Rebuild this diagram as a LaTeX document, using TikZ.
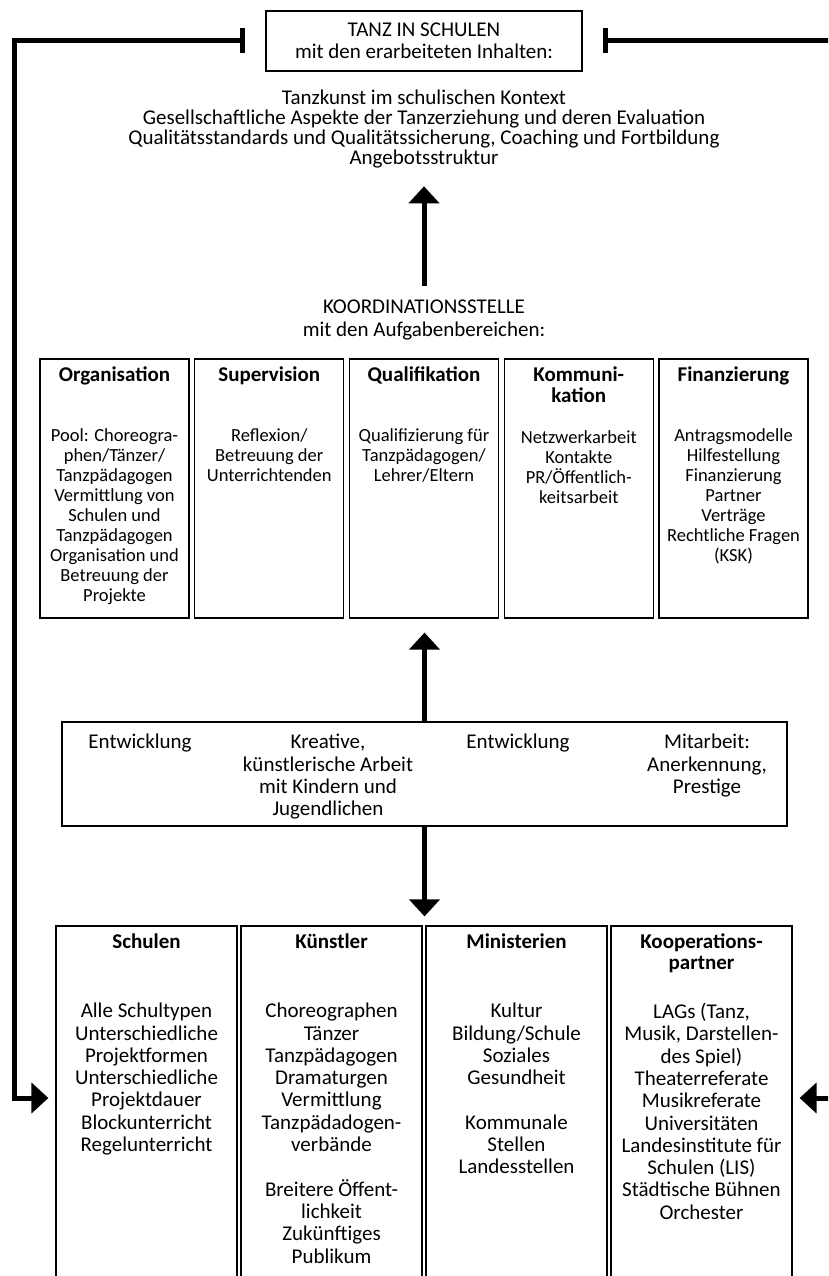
\documentclass[tikz,border=0pt]{standalone}
\usepackage{fontspec}
\setmainfont{Carlito}
\usetikzlibrary{arrows.meta}

\begin{document}
\begin{tikzpicture}[x=1pt, y=-1pt,
  every node/.style={inner sep=0pt, align=center, font=\fontsize{21}{20}\selectfont},
  frame/.style={draw, line width=1.2pt},
  head/.style={anchor=north, font=\fontsize{21}{21}\selectfont\bfseries},
  small/.style={anchor=north, font=\fontsize{18.5}{20}\selectfont},
  body/.style={anchor=north, font=\fontsize{21}{22.3}\selectfont},
  link/.style={line width=5pt},
  up/.style={link, -{Triangle[width=30pt,length=17pt]}},
  feedback/.style={link, {Bar[width=25pt]}-{Triangle[width=30pt,length=17pt]}}]
\useasboundingbox (0,0) rectangle (828,1276);
\clip (0,0) rectangle (828,1276);

\node[frame, minimum width=316pt, minimum height=60pt, font=\fontsize{21}{22}\selectfont] (tanz) at (424,41) {TANZ IN SCHULEN\\mit den erarbeiteten Inhalten:};

\node (inhalte) at (424,129) {Tanzkunst im schulischen Kontext\\Gesellschaftliche Aspekte der Tanzerziehung und deren Evaluation\\Qualitätsstandards und Qualitätssicherung, Coaching und Fortbildung\\Angebotsstruktur};

\node[font=\fontsize{21}{23}\selectfont] (koord) at (424,320) {KOORDINATIONSSTELLE\\mit den Aufgabenbereichen:};

\node[frame, minimum width=149pt, minimum height=259pt] (orga) at (114.5,488.5) {};
\node[frame, minimum width=149pt, minimum height=259pt] (superv) at (269.25,488.5) {};
\node[frame, minimum width=149pt, minimum height=259pt] (quali) at (424,488.5) {};
\node[frame, minimum width=149pt, minimum height=259pt] (kommu) at (578.75,488.5) {};
\node[frame, minimum width=149pt, minimum height=259pt] (finanz) at (733.5,488.5) {};

\node[head] (orgaT) at (114.5,367) {Organisation};
\node[head] (supervT) at (269.25,367) {Supervision};
\node[head] (qualiT) at (424,367) {Qualifikation};
\node[head] (kommuT) at (578.75,367) {Kommuni-\\kation};
\node[head] (finanzT) at (733.5,367) {Finanzierung};

\node[small] (orgaB) at (114.5,428) {Pool: Choreogra-\\phen/Tänzer/\\Tanzpädagogen\\Vermittlung von\\Schulen und\\Tanzpädagogen\\Organisation und\\Betreuung der\\Projekte};
\node[small] (supervB) at (269.25,428) {Reflexion/\\Betreuung der\\Unterrichtenden};
\node[small] (qualiB) at (424,428) {Qualifizierung für\\Tanzpädagogen/\\Lehrer/Eltern};
\node[small] (kommuB) at (578.75,430) {Netzwerkarbeit\\Kontakte\\PR/Öffentlich-\\keitsarbeit};
\node[small] (finanzB) at (733.5,428) {Antragsmodelle\\Hilfestellung\\Finanzierung\\Partner\\Verträge\\Rechtliche Fragen\\(KSK)};

\node[frame, minimum width=725pt, minimum height=104pt] (mitte) at (424.5,774) {};
\node[body] (ent1) at (140,734) {Entwicklung};
\node[body] (kreativ) at (328,734) {Kreative,\\künstlerische Arbeit\\mit Kindern und\\Jugendlichen};
\node[body] (ent2) at (518,734) {Entwicklung};
\node[body] (mitarbeit) at (707,734) {Mitarbeit:\\Anerkennung,\\Prestige};

\node[frame, minimum width=181pt, minimum height=370pt] (schulen) at (146.5,1111) {};
\node[frame, minimum width=181pt, minimum height=370pt] (kuenstler) at (331.5,1111) {};
\node[frame, minimum width=181pt, minimum height=370pt] (minis) at (516.5,1111) {};
\node[frame, minimum width=181pt, minimum height=370pt] (koop) at (701.5,1111) {};

\node[head] (schulenT) at (146.5,934) {Schulen};
\node[head] (kuenstlerT) at (331.5,934) {Künstler};
\node[head] (minisT) at (516.5,934) {Ministerien};
\node[head] (koopT) at (701.5,934) {Kooperations-\\partner};

\node[body] (schulenB) at (146.5,1003) {Alle Schultypen\\Unterschiedliche\\Projektformen\\Unterschiedliche\\Projektdauer\\Blockunterricht\\Regelunterricht};
\node[body] (kuenstlerB) at (331.5,1003) {Choreographen\\Tänzer\\Tanzpädagogen\\Dramaturgen\\Vermittlung\\Tanzpädadogen-\\verbände\\[22.3pt]Breitere Öffent-\\lichkeit\\Zukünftiges\\Publikum};
\node[body] (minisB) at (516.5,1003) {Kultur\\Bildung/Schule\\Soziales\\Gesundheit\\[22.3pt]Kommunale\\Stellen\\Landesstellen};
\node[body] (koopB) at (701.5,1003) {LAGs (Tanz,\\Musik, Darstellen-\\des Spiel)\\Theaterreferate\\Musikreferate\\Universitäten\\Landesinstitute für\\Schulen (LIS)\\Städtische Bühnen\\Orchester};

\draw[up, shorten <=14pt, shorten >=18pt] (koord.north) -- (inhalte.south);
\draw[up, shorten >=14pt] (mitte.north) -- (mitte.north |- quali.south);
\draw[up, shorten >=9pt] (mitte.south) -- (mitte.south |- kuenstler.north);

\draw[feedback, shorten <=20pt, shorten >=7pt] (tanz.west) -| (14,1098) -- ([yshift=13pt]schulen.west);
\draw[feedback, shorten <=20pt, shorten >=7pt] (tanz.east) -| (845,1098) -- ([yshift=13pt]koop.east);
\end{tikzpicture}
\end{document}
